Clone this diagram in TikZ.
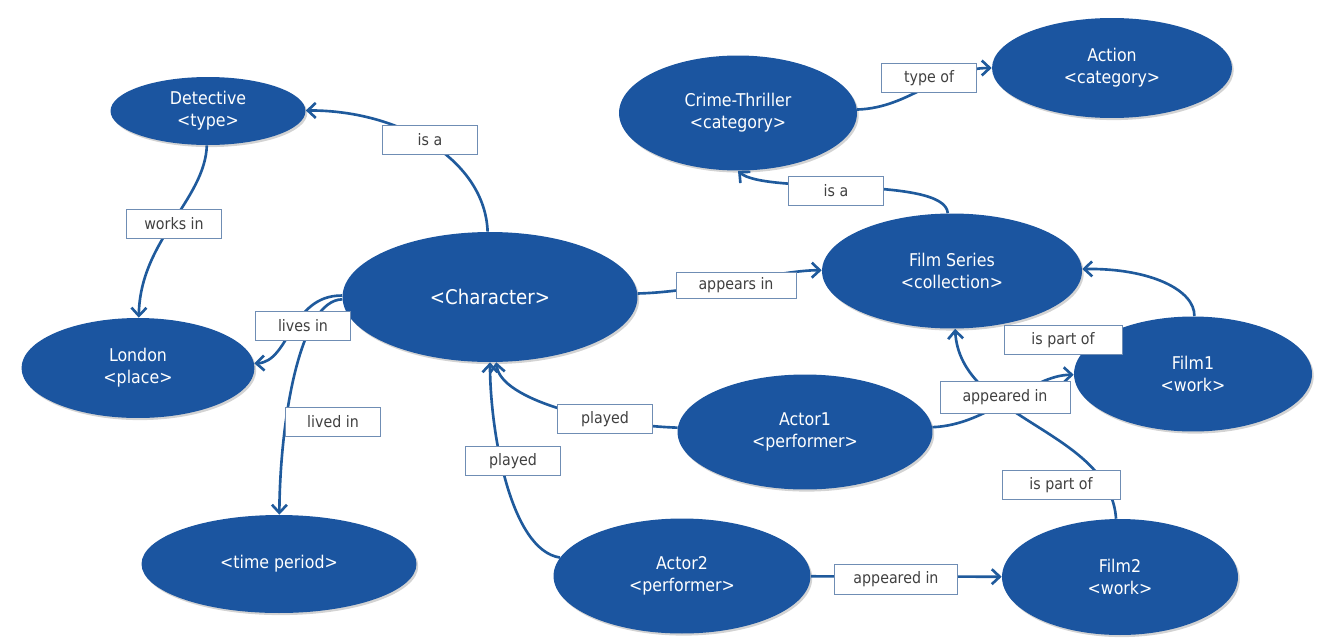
\documentclass[tikz,border=0pt]{standalone}
\usepackage{fontspec}
\setmainfont{DejaVu Sans Condensed}
\usetikzlibrary{shapes.geometric}
\usetikzlibrary{arrows.meta}
\usetikzlibrary{shadows}

\definecolor{nodeblue}{HTML}{1B55A0}
\definecolor{lineblue}{HTML}{1F5A9C}
\definecolor{boxline}{HTML}{6F8DB4}
\definecolor{labelgray}{HTML}{404040}

\begin{document}
\begin{tikzpicture} [x=0.02cm, y=-0.02cm,
        concept/.style={ellipse, fill=nodeblue, text=white, align=center, inner sep=0pt,
            font=\fontsize{10}{12.5}\selectfont,
            drop shadow={shadow xshift=1pt, shadow yshift=-1.2pt, opacity=0.35}},
        rel/.style={draw=lineblue, line width=1.5pt, -{Straight Barb[length=1.6mm, width=3mm]}},
        lbl/.style={draw=boxline, fill=white, text=labelgray, minimum width=1.9cm,
            minimum height=0.58cm, inner sep=2pt, font=\fontsize{9}{11}\selectfont}]
            \useasboundingbox (0, 0) rectangle (1327, 639);

            \node[concept, minimum width=3.9cm,  minimum height=1.36cm] (det)    at (208, 111)  {Detective\\<type>};
            \node[concept, minimum width=4.66cm, minimum height=2cm]    (lon)    at (138, 368)  {London\\<place>};
            \node[concept, minimum width=5.5cm,  minimum height=1.96cm] (time)   at (279, 564)  {<time period>};
            \node[concept, minimum width=5.9cm,  minimum height=2.6cm,
                  font=\fontsize{11.5}{14}\selectfont]                  (char)   at (490, 297)  {<Character>};
            \node[concept, minimum width=4.76cm, minimum height=2.3cm]  (crime)  at (738, 113)  {Crime-Thriller\\<category>};
            \node[concept, minimum width=4.8cm,  minimum height=2cm]    (action) at (1112, 68)  {Action\\<category>};
            \node[concept, minimum width=5.2cm,  minimum height=2.3cm]  (series) at (952, 271)  {Film Series\\<collection>};
            \node[concept, minimum width=4.76cm, minimum height=2.3cm]  (film1)  at (1193, 374) {Film1\\<work>};
            \node[concept, minimum width=5.1cm,  minimum height=2.3cm]  (actor1) at (805, 432)  {Actor1\\<performer>};
            \node[concept, minimum width=5.14cm, minimum height=2.3cm]  (actor2) at (682, 576)  {Actor2\\<performer>};
            \node[concept, minimum width=4.72cm, minimum height=2.32cm] (film2)  at (1120, 577) {Film2\\<work>};

            \draw[rel] (char) .. controls (485, 160) and (400, 110) .. (det);
            \draw[rel] (det) .. controls (205, 200) and (140, 240) .. (lon);
            \draw[rel] (char) .. controls (290, 295) and (290, 362) .. (lon);
            \draw[rel] (char) .. controls (300, 300) and (280, 420) .. (time);
            \draw[rel] (actor1) .. controls (600, 425) and (500, 400) .. (char);
            \draw[rel] (actor2) .. controls (510, 550) and (490, 430) .. (char);
            \draw[rel] (char) .. controls (700, 292) and (780, 270) .. (series);
            \draw[rel] (series) .. controls (945, 175) and (765, 195) .. (crime.south);
            \draw[rel] (crime) .. controls (910, 108) and (940, 68) .. (action);
            \draw[rel] (film1) .. controls (1195, 290) and (1150, 268) .. (series);
            \draw[rel] (actor1) .. controls (990, 425) and (1030, 375) .. (film1);
            \draw[rel] (film2) .. controls (1110, 430) and (960, 420) .. (series);
            \draw[rel] (actor2) -- (film2);

            \node[lbl] (isa1)        at (430, 140)  {is a};
            \node[lbl] (worksin)     at (174, 224)  {works in};
            \node[lbl] (livesin)     at (303, 326)  {lives in};
            \node[lbl] (livedin)     at (333, 422)  {lived in};
            \node[lbl] (played1)     at (605, 419)  {played};
            \node[lbl] (played2)     at (513, 461)  {played};
            \node[lbl, minimum width=2.4cm, minimum height=0.52cm]  (appearsin)   at (736, 285)  {appears in};
            \node[lbl] (isa2)        at (836, 191)  {is a};
            \node[lbl] (typeof)      at (929, 78)   {type of};
            \node[lbl, minimum width=2.36cm] (partof1)     at (1063, 340) {is part of};
            \node[lbl, minimum width=2.6cm, minimum height=0.64cm]  (appearedin1) at (1005, 397) {appeared in};
            \node[lbl, minimum width=2.36cm] (partof2)     at (1061, 485) {is part of};
            \node[lbl, minimum width=2.46cm, minimum height=0.6cm]  (appearedin2) at (896, 579)  {appeared in};
        \end{tikzpicture}
\end{document}
